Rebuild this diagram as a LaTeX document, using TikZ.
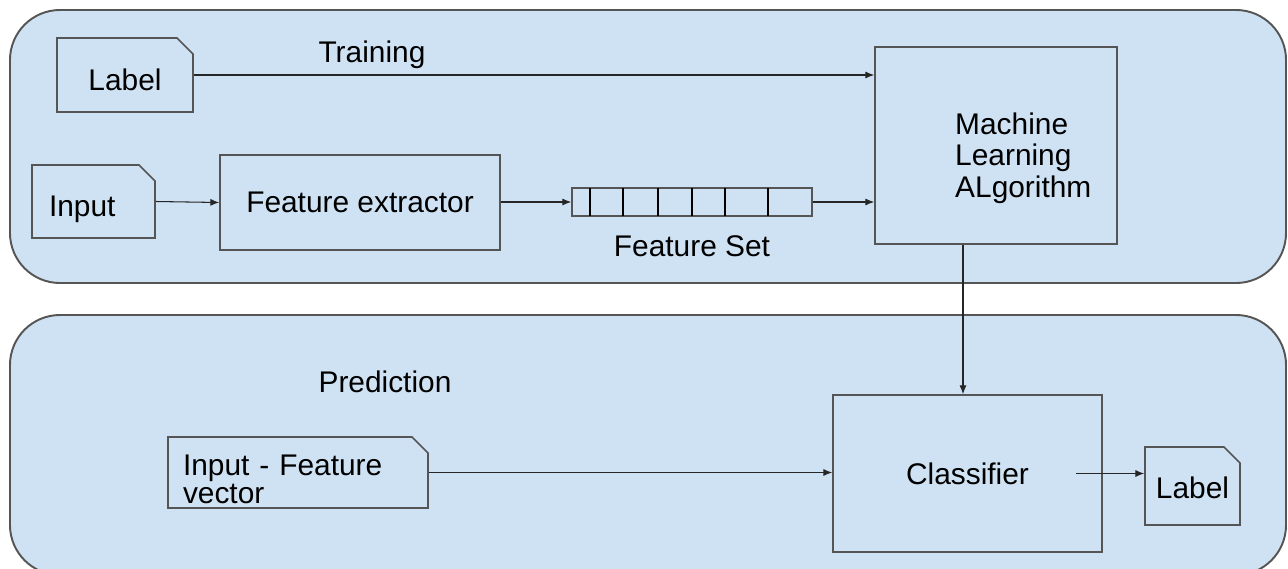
\documentclass[tikz,border=0pt]{standalone}
\usepackage{fontspec}
\setmainfont{Liberation Sans}
\usetikzlibrary{shapes.misc,arrows.meta,positioning}
\definecolor{paneblue}{HTML}{CFE2F3}
\definecolor{edgegray}{HTML}{555555}
\tikzset{frame/.style={draw=edgegray, line width=1.1pt, fill=paneblue, rounded corners=1cm},
        box/.style={draw=edgegray, line width=0.9pt, inner sep=0pt},
        doc/.style={box, chamfered rectangle, chamfered rectangle corners=north east,
                    chamfered rectangle xsep=0.16cm, chamfered rectangle ysep=0.16cm},
        link/.style={draw=black!85, line width=0.6pt, -{Latex[length=5pt,width=4pt]}},
        every node/.style={font=\fontsize{17}{18}\selectfont},
        }

\begin{document}
\begin{tikzpicture}[x=0.2mm,y=-0.2mm]
    \useasboundingbox (0,0) rectangle (1288,568);

    % the two panes
    \node[frame, minimum width=25.52cm, minimum height=5.46cm] (trainpane) at (648,146.5) {};
    \node[frame, minimum width=25.52cm, minimum height=5.2cm] (predpane) at (648,445) {};

    % training
    \node at (372,55) {Training};
    \node[doc, minimum width=2.72cm, minimum height=1.48cm] (label) at (125,75) {\rule{0pt}{0.63cm}Label};
    \node[doc, minimum width=2.46cm, minimum height=1.46cm] (input) at (93.5,201.5) {\rule{0pt}{0.71cm}Input\kern0.45cm};
    \node[box, minimum width=5.6cm, minimum height=1.9cm] (fextract) at (360,202.5) {Feature extractor};
    \node[box, minimum width=4.8cm, minimum height=0.56cm] (fset) at (692,202) {};
    \foreach \x in {590,623,658,692,725,768}
        \draw[line width=0.7pt] (\x,188) -- (\x,216);
    \node[below=0.25cm of fset] (fsetname) {Feature Set};
    \node[box, minimum width=4.84cm, minimum height=3.94cm] (mlalgo) at (996,145.5) {};
    \node[align=left, anchor=west] (mltext) at (949,158) {Machine\\Learning\\ALgorithm};

    \draw[link] (label.east) -- (label.east -| mlalgo.west);
    \draw[link] (input.east) -- (fextract.west);
    \draw[link] (fextract.east |- fset.west) -- (fset.west);
    \draw[link] (fset.east) -- (fset.east -| mlalgo.west);

    % prediction
    \node at (385,382) {Prediction};
    \node[doc, minimum width=5.2cm, minimum height=1.42cm, text width=4.6cm, align=left, inner ysep=-0.13cm,
          font=\fontsize{17}{16}\selectfont] (fvector) at (298,472.5) {\rule{0pt}{0.67cm}Input - Feature\\vector};
    \node[box, minimum width=5.38cm, minimum height=3.14cm] (classifier) at (967.5,473.5) {Classifier};
    \node[doc, minimum width=1.9cm, minimum height=1.56cm] (outlabel) at (1192.5,486) {\rule{0pt}{0.5cm}Label};

    \draw[link] (mlalgo.south -| 963,0) -- (classifier.north -| 963,0);
    \draw[link] (fvector.east) -- (fvector.east -| classifier.west);
    \draw[link] ([xshift=-0.54cm]classifier.east) -- (classifier.east -| outlabel.west);
\end{tikzpicture}
\end{document}
